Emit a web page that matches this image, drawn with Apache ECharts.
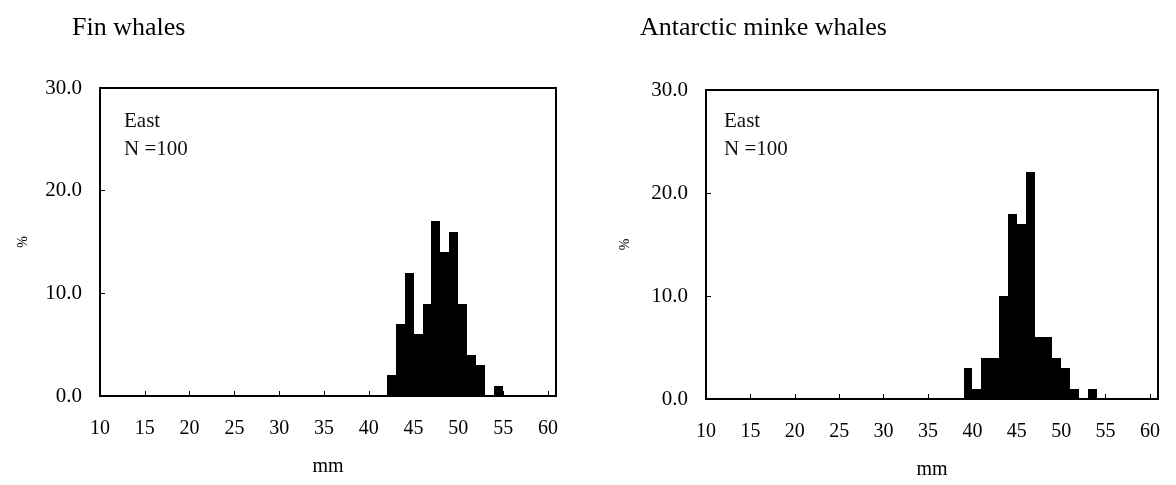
<!DOCTYPE html>
<html>
<head>
<meta charset="utf-8">
<script src="https://cdn.jsdelivr.net/npm/echarts@6/dist/echarts.min.js"></script>
<style>
html,body{margin:0;padding:0;background:#fff;}
#main{width:1176px;height:485px;}
</style>
</head>
<body>
<div id="main"></div>
<script>
// ---- data ----
const chartTitles = ['Fin whales', 'Antarctic minke whales'];
const areaLabel = 'East';
const sampleLabel = 'N =100';
const xAxisName = 'mm';
const yAxisName = '%';

// bin start (mm), each bin is 1 mm wide
const finBins = [42, 43, 44, 45, 46, 47, 48, 49, 50, 51, 52, 53, 54];
const finPct  = [2, 7, 12, 6, 9, 17, 14, 16, 9, 4, 3, 0, 1];

const minkeBins = [39, 40, 41, 42, 43, 44, 45, 46, 47, 48, 49, 50, 51, 52, 53];
const minkePct  = [3, 1, 4, 4, 10, 18, 17, 22, 6, 6, 4, 3, 1, 0, 1];

const xTickMin = 10, xTickStep = 5;
const yTickMin = 0, yTickMax = 30, yTickStep = 10;

// ---- chart ----
const FONT = 'Liberation Serif';
const chart = echarts.init(document.getElementById('main'));

function renderItem(params, api) {
  const x0 = api.value(0);
  const v = api.value(1);
  const p0 = api.coord([x0, v]);
  const p1 = api.coord([x0 + 1, 0]);
  const xl = Math.round(p0[0]), xr = Math.round(p1[0]);
  const yt = Math.round(p0[1]), yb = Math.round(p1[1]);
  return {
    type: 'rect',
    shape: { x: xl, y: yt, width: xr - xl, height: yb - yt },
    style: { fill: '#000' }
  };
}

const grids = [
  { left: 100, top: 88, width: 456, height: 308 },
  { left: 706, top: 90, width: 452, height: 310 }
];
const yNameGaps = [70, 74];

function xAx(i) {
  return {
    type: 'value', gridIndex: i, min: xTickMin, max: 60.9, interval: xTickStep,
    name: xAxisName, nameLocation: 'middle', nameGap: 61,
    nameTextStyle: { fontFamily: FONT, fontSize: 20, color: '#000' },
    axisLine: { show: true, lineStyle: { color: '#000', width: 2 } },
    axisTick: { show: true, inside: true, length: 5, lineStyle: { color: '#000', width: 1 } },
    axisLabel: { showMaxLabel: false, fontFamily: FONT, fontSize: 20, color: '#000', margin: 23 },
    splitLine: { show: false }
  };
}
function yAx(i) {
  return {
    type: 'value', gridIndex: i, min: yTickMin, max: yTickMax, interval: yTickStep,
    name: yAxisName, nameLocation: 'middle', nameGap: yNameGaps[i], nameRotate: 90,
    nameTextStyle: { fontFamily: FONT, fontSize: 14, color: '#000' },
    axisLine: { show: true, lineStyle: { color: '#000', width: 2 } },
    axisTick: { show: true, inside: true, length: 5, lineStyle: { color: '#000', width: 1 } },
    axisLabel: { fontFamily: FONT, fontSize: 21, color: '#000', margin: 18,
      formatter: v => v.toFixed(1) },
    splitLine: { show: false }
  };
}

const option = {
  backgroundColor: '#fff',
  animation: false,
  grid: grids.map(g => Object.assign({ show: true, borderColor: '#000', borderWidth: 2, backgroundColor: 'transparent' }, g)),
  xAxis: [xAx(0), xAx(1)],
  yAxis: [yAx(0), yAx(1)],
  series: [
    { type: 'custom', xAxisIndex: 0, yAxisIndex: 0, renderItem,
      encode: { x: 0, y: 1 }, data: finBins.map((b, i) => [b, finPct[i]]) },
    { type: 'custom', xAxisIndex: 1, yAxisIndex: 1, renderItem,
      encode: { x: 0, y: 1 }, data: minkeBins.map((b, i) => [b, minkePct[i]]) }
  ],
  graphic: [
    { type: 'text', left: 72, top: 15, style: { text: chartTitles[0], font: '26px "' + FONT + '"', fill: '#000' } },
    { type: 'text', left: 640, top: 15, style: { text: chartTitles[1], font: '26px "' + FONT + '"', fill: '#000' } },
    { type: 'text', left: 124, top: 111, style: { text: areaLabel, font: '21px "' + FONT + '"', fill: '#111' } },
    { type: 'text', left: 124, top: 139, style: { text: sampleLabel, font: '21px "' + FONT + '"', fill: '#111' } },
    { type: 'text', left: 724, top: 111, style: { text: areaLabel, font: '21px "' + FONT + '"', fill: '#111' } },
    { type: 'text', left: 724, top: 139, style: { text: sampleLabel, font: '21px "' + FONT + '"', fill: '#111' } }
  ]
};
chart.setOption(option);
</script>
</body>
</html>
